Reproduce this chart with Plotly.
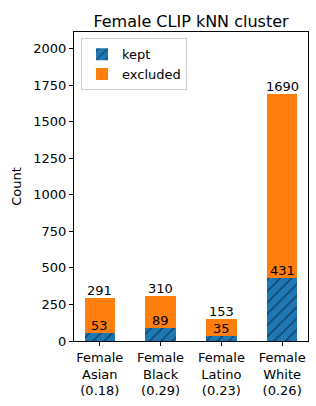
import plotly.graph_objects as go

categories = ["Female<br>Asian<br>(0.18)", "Female<br>Black<br>(0.29)", "Female<br>Latino<br>(0.23)", "Female<br>White<br>(0.26)"]
kept = [53, 89, 35, 431]
total = [291, 310, 153, 1690]
excluded = [t - k for t, k in zip(total, kept)]

xs = list(range(len(categories)))
font = "DejaVu Sans"

fig = go.Figure()
fig.add_trace(go.Bar(
    x=xs, y=kept, name="kept", width=0.5,
    marker=dict(color="#1f77b4", line=dict(width=0),
                pattern=dict(shape="/", fgcolor="black", bgcolor="#1f77b4", size=8, solidity=0.15)),
))
fig.add_trace(go.Bar(
    x=xs, y=excluded, name="excluded", width=0.5,
    marker=dict(color="#ff7f0e", line=dict(width=0)),
))

for x, k, t in zip(xs, kept, total):
    fig.add_annotation(x=x, y=k, text=str(k), showarrow=False, yanchor="bottom",
                       font=dict(size=13, color="black", family=font), yshift=-2)
    fig.add_annotation(x=x, y=t, text=str(t), showarrow=False, yanchor="bottom",
                       font=dict(size=13, color="black", family=font), yshift=-2)

fig.update_layout(
    barmode="stack",
    width=316, height=406,
    margin=dict(l=74, r=8, t=32, b=65, autoexpand=False),
    paper_bgcolor="white", plot_bgcolor="white",
    font=dict(family=font, size=13, color="black"),
    title=dict(text="Female CLIP kNN cluster", x=0.5, xanchor="center", xref="paper",
               y=1, yref="paper", yanchor="bottom", pad=dict(b=5),
               font=dict(size=16, family=font)),
    showlegend=True,
    legend=dict(x=0.03, y=0.98, xanchor="left", yanchor="top", bordercolor="#cccccc", borderwidth=1,
                bgcolor="rgba(255,255,255,0.8)", font=dict(size=13, family=font), traceorder="normal"),
    bargap=0,
)
fig.update_xaxes(range=[-0.425, 3.425], tickvals=xs, ticktext=categories, showline=True, linecolor="black",
                 linewidth=1, mirror=True, ticks="outside", ticklen=4, tickcolor="black", showgrid=False,
                 tickfont=dict(size=13), automargin=False)
fig.update_yaxes(range=[0, 2112.5], tickvals=[0, 250, 500, 750, 1000, 1250, 1500, 1750, 2000],
                 showline=True, linecolor="black", linewidth=1, mirror=True, ticks="outside", ticklen=4,
                 tickcolor="black", showgrid=False, zeroline=False, tickfont=dict(size=13), automargin=False,
                 title=dict(text="Count", font=dict(size=13), standoff=8))

fig.write_html("out.html", config={"displayModeBar": False},
               post_script="document.body.style.margin='0';document.body.style.overflow='hidden';")
